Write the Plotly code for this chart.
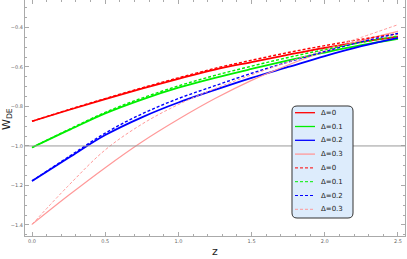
import plotly.graph_objects as go

# ---- data ----
z = [0.0, 0.25, 0.5, 0.75, 1.0, 1.25, 1.5, 1.75, 2.0, 2.25, 2.5]

w_solid_d0  = [-0.875, -0.818, -0.763, -0.710, -0.660, -0.613, -0.575, -0.538, -0.503, -0.473, -0.446]
w_solid_d01 = [-1.008, -0.920, -0.835, -0.765, -0.705, -0.655, -0.610, -0.567, -0.527, -0.490, -0.458]
w_solid_d02 = [-1.177, -1.060, -0.945, -0.855, -0.780, -0.716, -0.655, -0.600, -0.545, -0.495, -0.453]
w_solid_d03 = [-1.397, -1.250, -1.110, -0.980, -0.865, -0.760, -0.668, -0.590, -0.522, -0.466, -0.420]

w_dash_d0  = [-0.875, -0.816, -0.760, -0.706, -0.655, -0.607, -0.566, -0.527, -0.492, -0.460, -0.432]
w_dash_d01 = [-1.008, -0.917, -0.830, -0.758, -0.696, -0.643, -0.596, -0.552, -0.512, -0.476, -0.443]
w_dash_d02 = [-1.177, -1.055, -0.935, -0.838, -0.760, -0.695, -0.632, -0.575, -0.522, -0.473, -0.430]
w_dash_d03 = [-1.397, -1.200, -1.020, -0.890, -0.790, -0.710, -0.640, -0.575, -0.512, -0.450, -0.386]

labels = ["Δ=0", "Δ=0.1", "Δ=0.2", "Δ=0.3"]
colors = ["#ff0000", "#00ee00", "#0000ff", "#ff9999"]
solid_series = [w_solid_d0, w_solid_d01, w_solid_d02, w_solid_d03]
dash_series = [w_dash_d0, w_dash_d01, w_dash_d02, w_dash_d03]
solid_widths = [1.8, 1.8, 1.8, 1.2]
dash_widths = [1.4, 1.4, 1.4, 1.0]
ref_line = -1.0

W, H = 407, 259
ML, MR, MT, MB = 25, 2, 0, 23
PW, PH = W - ML - MR, H - MT - MB

def px_x(px):
    return (px - ML) / PW

def px_y(py):
    return (H - MB - py) / PH

fig = go.Figure()

for ys, c, lw in zip(solid_series, colors, solid_widths):
    fig.add_trace(go.Scatter(x=z, y=ys, mode="lines", line=dict(color=c, width=lw, shape="spline"),
                             showlegend=False, hoverinfo="skip"))
for ys, c, lw in zip(dash_series, colors, dash_widths):
    fig.add_trace(go.Scatter(x=z, y=ys, mode="lines",
                             line=dict(color=c, width=lw, shape="spline", dash="3px,2px"),
                             showlegend=False, hoverinfo="skip"))

axis_common = dict(
    showgrid=False, zeroline=False, showline=True, linecolor="#aaaaaa", linewidth=1,
    mirror="ticks", ticks="inside", ticklen=4, tickcolor="#aaaaaa", tickwidth=0.8,
    tickfont=dict(size=5, color="#666666", family="DejaVu Sans"),
    tickformat=".1f",
)

fig.update_xaxes(range=[-0.048, 2.548], tick0=0, dtick=0.5,
                 minor=dict(ticks="inside", ticklen=2, dtick=0.1, tickcolor="#aaaaaa", showgrid=False),
                 **axis_common)
fig.update_yaxes(range=[-1.456, -0.261], tick0=-1.4, dtick=0.2,
                 minor=dict(ticks="inside", ticklen=2, dtick=0.05, tickcolor="#aaaaaa", showgrid=False),
                 **axis_common)

shapes = []
# horizontal reference line w = -1
shapes.append(dict(type="line", xref="paper", yref="y", x0=0, x1=1, y0=ref_line, y1=ref_line,
                   line=dict(color="#999999", width=1)))

# legend box (rounded)
bx0, bx1, by0, by1, r = 292, 353, 106, 218, 5
def P(px, py):
    return f"{px_x(px):.5f},{px_y(py):.5f}"
path = (f"M {P(bx0 + r, by0)} L {P(bx1 - r, by0)} Q {P(bx1, by0)} {P(bx1, by0 + r)} "
        f"L {P(bx1, by1 - r)} Q {P(bx1, by1)} {P(bx1 - r, by1)} "
        f"L {P(bx0 + r, by1)} Q {P(bx0, by1)} {P(bx0, by1 - r)} "
        f"L {P(bx0, by0 + r)} Q {P(bx0, by0)} {P(bx0 + r, by0)} Z")
shapes.append(dict(type="path", xref="paper", yref="paper", path=path,
                   fillcolor="#ddecfc", line=dict(color="#333333", width=1), layer="above"))

annotations = []
entries = [(l, c, "solid", w) for l, c, w in zip(labels, colors, solid_widths)] + \
          [(l, c, "3px,2px", w) for l, c, w in zip(labels, colors, dash_widths)]
row0, step = 112.7, 13.8
for i, (lab, col, dsh, lw) in enumerate(entries):
    py = row0 + i * step
    shapes.append(dict(type="line", xref="paper", yref="paper",
                       x0=px_x(295), x1=px_x(315), y0=px_y(py), y1=px_y(py),
                       line=dict(color=col, width=1.3 if dsh == "solid" else 1.0, dash=dsh), layer="above"))
    annotations.append(dict(xref="paper", yref="paper", x=px_x(319), y=px_y(py), text=lab,
                            showarrow=False, xanchor="left", yanchor="middle",
                            font=dict(size=7, color="#222222", family="DejaVu Sans")))

# axis titles
annotations.append(dict(xref="paper", yref="paper", x=px_x(7), y=px_y(119), text="W<sub>DE</sub>",
                        textangle=-90, showarrow=False, xanchor="center", yanchor="middle",
                        font=dict(size=11, color="#222222", family="DejaVu Sans")))
annotations.append(dict(xref="paper", yref="paper", x=px_x(215), y=px_y(251.5), text="z",
                        showarrow=False, xanchor="center", yanchor="middle",
                        font=dict(size=11, color="#222222", family="DejaVu Sans")))

fig.update_layout(
    width=W, height=H, margin=dict(l=ML, r=MR, t=MT, b=MB),
    paper_bgcolor="white", plot_bgcolor="white",
    shapes=shapes, annotations=annotations, showlegend=False,
)

fig.write_html("out.html", config={"displayModeBar": False},
               post_script="document.body.style.margin='0';")
